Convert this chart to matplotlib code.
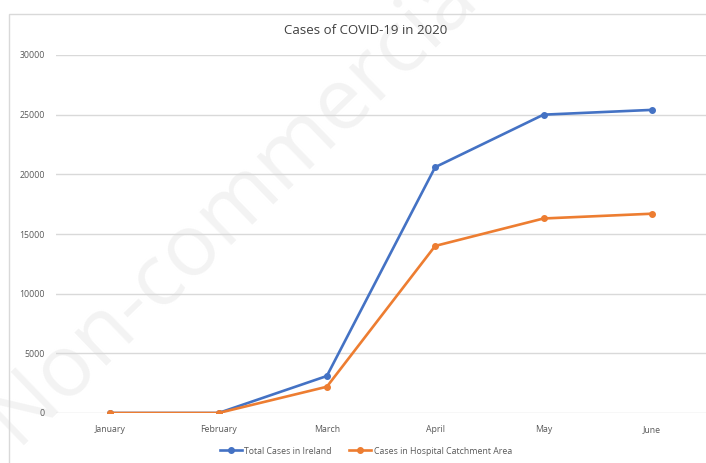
import matplotlib
matplotlib.use("Agg")
import matplotlib.pyplot as plt
from matplotlib.patches import Rectangle

months = ["January", "February", "March", "April", "May", "June"]
total_ireland = [0, 0, 3100, 20600, 25000, 25400]
hospital_area = [0, 0, 2200, 14000, 16300, 16700]
yticks = [0, 5000, 10000, 15000, 20000, 25000, 30000]

plt.rcParams['font.family'] = ['Open Sans', 'DejaVu Sans']

W, H = 706, 463
fig = plt.figure(figsize=(W/100, H/100), dpi=100)
fig.patch.set_facecolor("white")

# watermark (behind everything)
fig.text(240/W, 1 - 198/H, "Non-commercial", rotation=44, ha="center", va="center",
         fontsize=62, color="#f3f3f3", zorder=-5)

# outer chart frame
fig.patches.append(Rectangle((9/W, -0.1), 1.2, 1.1 - 14/H, transform=fig.transFigure,
                             fill=False, edgecolor="#d9d9d9", linewidth=1.0, zorder=-4))

ax = fig.add_axes([56/W, 1 - 413/H, 650/W, (413 - 55)/H])
ax.patch.set_alpha(0)
x = range(len(months))
ax.plot(x, total_ireland, color="#4472C4", linewidth=1.9, marker="o", markersize=4,
        label="Total Cases in Ireland", zorder=3)
ax.plot(x, hospital_area, color="#ED7D31", linewidth=1.9, marker="o", markersize=4,
        label="Cases in Hospital Catchment Area", zorder=4)

ax.set_xlim(-0.5, len(months) - 0.5)
ax.set_ylim(0, 30000)
ax.set_yticks(yticks)
ax.set_yticklabels([str(v) for v in yticks])
ax.set_xticks(list(x))
ax.set_xticklabels(months)
ax.tick_params(axis="both", length=0, labelsize=6.3, colors="#595959")
ax.tick_params(axis="y", pad=8)
ax.tick_params(axis="x", pad=9)
ax.grid(axis="y", color="#d9d9d9", linewidth=1.0)
ax.set_axisbelow(True)
for s in ax.spines.values():
    s.set_visible(False)

fig.text(366/W, 1 - 31/H, "Cases of COVID-19 in 2020", ha="center", va="center",
         fontsize=9.5, color="#404040")

handles, labels = ax.get_legend_handles_labels()
fig.legend(handles, labels, loc="center", bbox_to_anchor=(366/W, 1 - 451/H), ncol=2,
           frameon=False, fontsize=6.3, labelcolor="#595959", handlelength=2.5,
           columnspacing=2.0, handletextpad=0.3)

fig.savefig("out.png", dpi=100)
